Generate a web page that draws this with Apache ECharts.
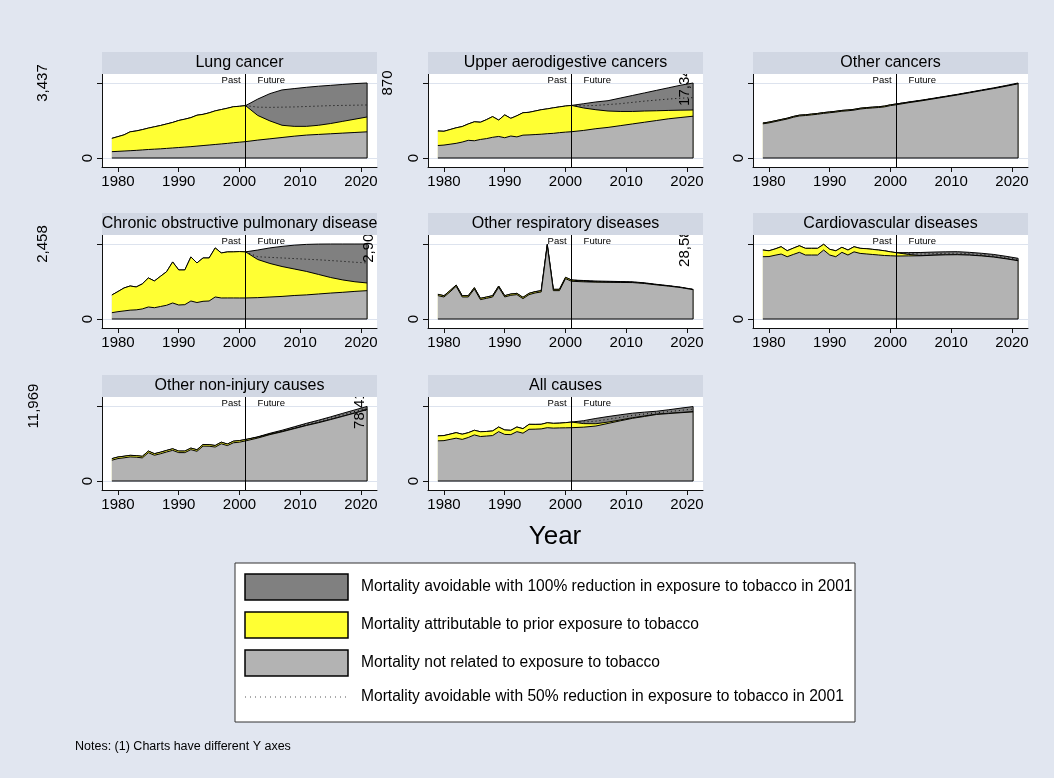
<!DOCTYPE html>
<html><head><meta charset="utf-8">
<script src="https://cdn.jsdelivr.net/npm/echarts@6.0.0/dist/echarts.min.js"></script>
<style>html,body{margin:0;padding:0;background:#e1e6f0}#c{width:1054px;height:778px}</style>
</head><body><div id="c"></div><script>
// ---- data ----
const years = [1979,1980,1981,1982,1983,1984,1985,1986,1987,1988,1989,1990,1991,1992,1993,1994,1995,1996,1997,1998,1999,2000,2001,2003,2005,2007,2009,2011,2013,2015,2017,2019,2021];
const futureYears = [2001,2003,2005,2007,2009,2011,2013,2015,2017,2019,2021];
const xTicks = [1980,1990,2000,2010,2020];
const titles = ['Lung cancer','Upper aerodigestive cancers','Other cancers','Chronic obstructive pulmonary disease','Other respiratory diseases','Cardiovascular diseases','Other non-injury causes','All causes'];
const yTopTicks = [3437, 870, 17342, 2458, 2903, 28584, 11969, 78418];
const legendLabels = ['Mortality avoidable with 100% reduction in exposure to tobacco in 2001','Mortality attributable to prior exposure to tobacco','Mortality not related to exposure to tobacco','Mortality avoidable with 50% reduction in exposure to tobacco in 2001'];
const noteText = 'Notes: (1) Charts have different Y axes';
const xTitle = 'Year';

// gray top (not related), yellow top (attributable), total (future), dotted 50% line (future)
const lungBase = [290,305,320,335,350,370,390,405,420,440,460,480,500,520,545,570,595,620,645,670,700,725,750,820,880,940,1000,1050,1080,1110,1140,1170,1200];
const lungAttrib = [900,980,1060,1200,1240,1300,1370,1430,1490,1560,1630,1720,1780,1850,1960,2000,2070,2160,2220,2280,2350,2370,2400,1950,1700,1500,1450,1450,1500,1580,1680,1780,1880];
const lungTotal = [2400,2700,2950,3120,3180,3240,3290,3330,3370,3410,3437];
const lungHalf = [2400,2330,2320,2330,2340,2360,2380,2400,2410,2420,2430];

const upperBase = [145,150,160,170,185,205,200,215,225,240,250,235,255,245,265,268,272,276,282,286,294,300,305,320,340,355,375,395,415,435,455,470,485];
const upperAttrib = [313,310,330,350,365,395,420,415,445,480,440,500,460,490,525,530,545,560,570,582,593,603,610,580,560,545,540,540,545,548,552,555,557];
const upperTotal = [610,630,650,665,695,725,755,785,815,845,870];
const upperHalf = [610,605,610,620,630,645,660,672,684,694,700];

const otherCaBase = [7900,8120,8420,8720,9020,9420,9720,9820,9970,10120,10320,10470,10620,10820,10920,11070,11320,11470,11570,11670,11820,12120,12320,12790,13200,13660,14120,14580,15080,15580,16070,16600,17160];
const otherCaAttrib = [8085,8300,8600,8900,9200,9600,9900,10000,10150,10300,10500,10650,10800,11000,11100,11250,11500,11650,11750,11850,12000,12300,12500,12900,13290,13730,14180,14630,15130,15620,16110,16640,17200];
const otherCaTotal = [12500,12950,13350,13800,14260,14720,15220,15720,16220,16760,17340];
const otherCaHalf = [12500,12925,13320,13765,14220,14675,15175,15670,16165,16700,17270];

const copdBase = [207,240,265,290,300,330,394,370,410,450,525,459,470,590,540,580,590,722,689,690,690,689,689,700,720,740,770,790,820,850,875,905,929];
const copdAttrib = [787,900,1017,1082,1050,1150,1345,1246,1400,1550,1870,1607,1607,2034,1837,2000,2000,2329,2165,2198,2200,2210,2200,1950,1820,1720,1640,1560,1460,1360,1280,1220,1181];
const copdTotal = [2200,2260,2330,2380,2420,2445,2455,2458,2458,2458,2458];
const copdHalf = [2200,2040,2020,2000,1980,1960,1940,1915,1890,1860,1837];

const respBase = [905,852,1050,1266,853,853,1162,750,800,853,1227,853,917,943,788,943,1008,1047,2840,1098,1098,1562,1460,1440,1425,1420,1415,1410,1375,1320,1272,1215,1135];
const respAttrib = [955,902,1100,1316,903,903,1212,800,850,903,1277,903,967,993,838,993,1058,1097,2890,1148,1148,1612,1509,1465,1440,1432,1425,1418,1382,1326,1277,1219,1138];
const respTotal = [1509,1490,1470,1460,1450,1440,1400,1341,1290,1230,1148];
const respHalf = [1509,1478,1455,1446,1438,1429,1391,1334,1284,1225,1143];

const cvdBase = [23737,23800,24300,24765,23737,24600,25413,24384,24384,24384,26289,24384,23737,25413,24384,25600,25000,24800,24600,24400,24200,24100,24003,24050,24100,24300,24450,24500,24350,24050,23600,22950,22212];
const cvdAttrib = [26289,26000,26700,27546,26022,27000,27927,26937,26937,26937,28460,26556,26000,27317,26289,27546,26937,26800,26556,26300,26000,25600,25260,24600,24150,24330,24470,24510,24360,24060,23610,22960,22222];
const cvdTotal = [25260,25300,25350,25500,25600,25650,25400,25050,24600,23900,23126];
const cvdHalf = [25260,24950,24750,24900,25020,25070,24880,24560,24100,23420,22670];

const noninjBase = [3320,3580,3700,3845,3800,3690,4520,4110,4350,4630,4890,4530,4530,5000,4740,5570,5550,5420,5940,5650,6100,6200,6400,6850,7400,7850,8350,8850,9300,9800,10320,10850,11400];
const noninjAttrib = [3570,3832,3950,4095,4050,3937,4777,4357,4600,4882,5145,4777,4777,5250,4987,5827,5800,5670,6195,5900,6352,6450,6615,7000,7500,7920,8400,8890,9330,9830,10350,10870,11420];
const noninjTotal = [6615,7050,7612,8100,8650,9200,9700,10237,10800,11350,11900];
const noninjHalf = [6615,7025,7556,8010,8525,9045,9515,10034,10575,11110,11660];

const allBase = [42000,42200,43500,44790,43500,45500,48190,46500,47000,47500,51600,48700,48500,51600,50000,54070,54200,54500,55730,55300,55500,55600,55730,56300,57480,60200,62900,65500,67500,69560,70500,71400,72240];
const allAttrib = [47160,47500,49000,50570,48900,50500,53040,51500,51800,52320,56450,53350,53000,56450,54700,59240,59200,59300,60890,60300,60500,61000,61610,60000,59860,61600,63800,66100,68000,69900,70800,71700,72500];
const allTotal = [61610,63100,65430,67400,69200,70900,72000,72960,74500,76200,77810];
const allHalf = [61610,61700,62600,64500,66500,68500,70000,71300,72600,73900,75200];

// ---- layout / style ----
const FONT = 'Arial, "Liberation Sans", Helvetica, sans-serif';
const BG = '#e1e6f0', BAND = '#d1d7e3';
const C_DARK = '#808080', C_YEL = '#ffff33', C_GRAY = '#b3b3b3';
const colLeft = [102, 428, 753], rowTop = [74, 235, 397], W = 275, H = 93;
const X_MIN = 1977.37, X_MAX = 2022.63;

const panels = [
  [lungBase, lungAttrib, lungTotal, lungHalf],
  [upperBase, upperAttrib, upperTotal, upperHalf],
  [otherCaBase, otherCaAttrib, otherCaTotal, otherCaHalf],
  [copdBase, copdAttrib, copdTotal, copdHalf],
  [respBase, respAttrib, respTotal, respHalf],
  [cvdBase, cvdAttrib, cvdTotal, cvdHalf],
  [noninjBase, noninjAttrib, noninjTotal, noninjHalf],
  [allBase, allAttrib, allTotal, allHalf]
];
const nPast = years.indexOf(2001);
const fmt = v => Math.round(v).toLocaleString('en-US');

const grids = [], xAxes = [], yAxes = [], series = [];
panels.forEach((p, i) => {
  const [base, attrib, total, half] = p;
  const r = Math.floor(i / 3), c = i % 3;
  const M = yTopTicks[i];
  grids.push({left: colLeft[c], top: rowTop[r], width: W, height: H, show: true, backgroundColor: '#fff', borderWidth: 0});
  xAxes.push({gridIndex: i, type: 'value', min: X_MIN, max: X_MAX, z: 10,
    axisLine: {show: true, onZero: false, lineStyle: {color: '#111', width: 1}},
    axisTick: {show: true, customValues: xTicks, length: 5, lineStyle: {color: '#111', width: 1}},
    axisLabel: {show: true, customValues: xTicks, formatter: v => String(v), fontSize: 15, color: '#000', margin: 7, fontFamily: FONT},
    splitLine: {show: false}});
  const ymin = -0.12 * M, ymax = 1.12 * M;
  yAxes.push({gridIndex: i, type: 'value', position: 'left', min: ymin, max: ymax, z: 10,
    axisLine: {show: true, onZero: false, lineStyle: {color: '#111', width: 1}},
    axisTick: {show: true, customValues: [0, M], length: 5, lineStyle: {color: '#111', width: 1}},
    axisLabel: {show: true, customValues: [0], rotate: 90, margin: 7, fontSize: 15, color: '#000', fontFamily: FONT, formatter: fmt},
    splitLine: {show: false}});
  const lbl = fmt(M);
  yAxes.push({gridIndex: i, type: 'value', position: 'left', offset: 0, min: ymin, max: ymax, z: 10,
    axisLine: {show: false}, axisTick: {show: false},
    axisLabel: {show: true, customValues: [M], rotate: 90, margin: 9.5 * lbl.length + 4, fontSize: 15, color: '#000', fontFamily: FONT, formatter: fmt},
    splitLine: {show: false}});
  const xi = i, yi = 2 * i;
  const darkData = years.map((y, k) => [y, k < nPast ? attrib[k] : total[k - nPast]]);
  const common = {type: 'line', xAxisIndex: xi, yAxisIndex: yi, symbol: 'none', animation: false, silent: true};
  series.push(Object.assign({}, common, {name: legendLabels[0], z: 2, data: darkData,
    lineStyle: {color: '#000', width: 1}, areaStyle: {color: C_DARK, opacity: 1, origin: 0},
    markLine: {silent: true, symbol: ['none', 'none'], z: 1, animation: false, label: {show: false},
      lineStyle: {color: '#dde3ee', width: 1, type: 'solid'}, data: [{yAxis: 0}, {yAxis: M}]}}));
  series.push(Object.assign({}, common, {name: legendLabels[1], z: 3, data: years.map((y, k) => [y, attrib[k]]),
    lineStyle: {color: '#000', width: 1}, areaStyle: {color: C_YEL, opacity: 1, origin: 0}}));
  series.push(Object.assign({}, common, {name: legendLabels[2], z: 4, data: years.map((y, k) => [y, base[k]]),
    lineStyle: {color: '#000', width: 1}, areaStyle: {color: C_GRAY, opacity: 1, origin: 0}}));
  series.push(Object.assign({}, common, {name: legendLabels[3], z: 5, data: futureYears.map((y, k) => [y, half[k]]),
    lineStyle: {color: '#000', width: 1, type: [1, 3]}}));
  const lastY = years[years.length - 1];
  series.push(Object.assign({}, common, {name: 'outline', z: 6,
    data: [[years[0], 0], [lastY, 0], [lastY, total[total.length - 1]]],
    lineStyle: {color: '#000', width: 1},
    markLine: {silent: true, symbol: ['none', 'none'], animation: false, label: {show: false},
      lineStyle: {color: '#000', width: 1, type: 'solid'}, data: [{xAxis: 2001}]}}));
});

const chart = echarts.init(document.getElementById('c'), null, {renderer: 'canvas'});
chart.setOption({
  backgroundColor: BG, animation: false,
  textStyle: {fontFamily: FONT},
  grid: grids, xAxis: xAxes, yAxis: yAxes, series: series
});

// graphic overlays: title bands, past/future markers, axis title, legend, note
const g = [];
const txt = (x, y, text, size, align, valign, extra) => Object.assign({type: 'text', silent: true, z: 101,
  style: {x, y, text, fill: '#000', fontSize: size, fontFamily: FONT, align, verticalAlign: valign, textAlign: align, textVerticalAlign: valign}}, extra || {});
panels.forEach((p, i) => {
  const r = Math.floor(i / 3), c = i % 3;
  g.push({type: 'rect', silent: true, z: 100, shape: {x: colLeft[c], y: rowTop[r] - 22, width: W, height: 22}, style: {fill: BAND}});
  g.push(txt(colLeft[c] + W / 2, rowTop[r] - 11, titles[i], 16, 'center', 'middle'));
  const px = chart.convertToPixel({xAxisIndex: i, yAxisIndex: 2 * i}, [2001, 0]);
  g.push(txt(px[0] - 5, rowTop[r] + 6, 'Past', 9.5, 'right', 'middle', {z: 50}));
  g.push(txt(px[0] + 12, rowTop[r] + 6, 'Future', 9.5, 'left', 'middle', {z: 50}));
});
g.push(txt(555, 537, xTitle, 26, 'center', 'middle'));
g.push({type: 'rect', silent: true, z: 100, shape: {x: 235, y: 563, width: 620, height: 159}, style: {fill: '#fff', stroke: '#333', lineWidth: 1}});
const swY = [574, 612, 650], swC = [C_DARK, C_YEL, C_GRAY];
swY.forEach((y, k) => {
  g.push({type: 'rect', silent: true, z: 101, shape: {x: 245, y: y, width: 103, height: 26}, style: {fill: swC[k], stroke: '#000', lineWidth: 1.5}});
  g.push(txt(361, y + 13, legendLabels[k], 15.6, 'left', 'middle'));
});
g.push({type: 'line', silent: true, z: 101, shape: {x1: 245, y1: 697, x2: 348, y2: 697}, style: {stroke: '#555', lineWidth: 1, lineDash: [1, 4]}});
g.push(txt(361, 697, legendLabels[3], 15.6, 'left', 'middle'));
g.push(txt(75, 747, noteText, 12.5, 'left', 'middle'));
chart.setOption({graphic: g});
</script></body></html>
